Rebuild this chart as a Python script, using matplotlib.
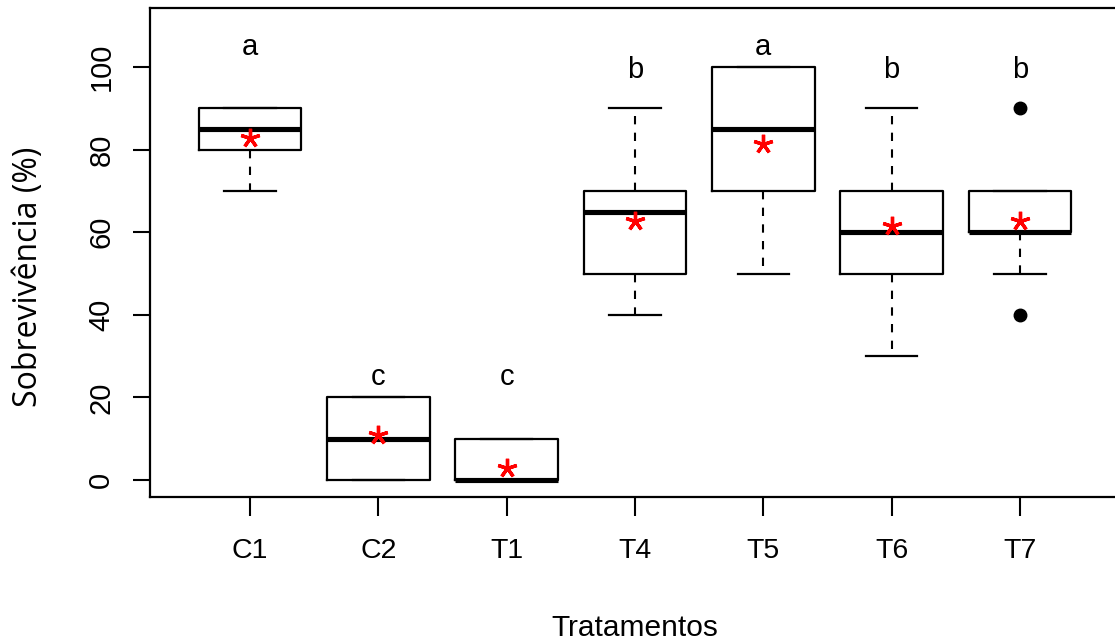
import numpy as np
import matplotlib
matplotlib.use('Agg')
import matplotlib.pyplot as plt

# values
tratamentos = ['C1', 'C2', 'T1', 'T4', 'T5', 'T6', 'T7']
q1 = [80, 0, 0, 50, 70, 50, 60]
mediana = [85, 10, 0, 65, 85, 60, 60]
q3 = [90, 20, 10, 70, 100, 70, 70]
whis_lo = [70, 0, 0, 40, 50, 30, 50]
whis_hi = [90, 20, 10, 90, 100, 90, 70]
outliers = [[], [], [], [], [], [], [90, 40]]
media = [82.8, 10.9, 2.9, 62.7, 81.4, 61.5, 62.7]
letras = ['a', 'c', 'c', 'b', 'a', 'b', 'b']
letras_y = [104.8, 25, 25, 99.4, 104.8, 99.4, 99.4]

stats = []
for i, nome in enumerate(tratamentos):
    stats.append(dict(label=nome, q1=q1[i], med=mediana[i], q3=q3[i],
                      whislo=whis_lo[i], whishi=whis_hi[i],
                      fliers=outliers[i], mean=media[i]))

fig = plt.figure(figsize=(11.15, 6.41), dpi=100)
ax = fig.add_axes([150 / 1115, 1 - 497 / 641, 970 / 1115, 489 / 641])

pos = np.arange(1, len(tratamentos) + 1)
ax.bxp(stats, positions=pos, widths=0.8, capwidths=0.4, showmeans=True,
       boxprops=dict(color='black', lw=1.6),
       medianprops=dict(color='black', lw=3.7, solid_capstyle='butt'),
       whiskerprops=dict(color='black', lw=1.5, linestyle=(0, (4, 4))),
       capprops=dict(color='black', lw=1.6),
       flierprops=dict(marker='o', markerfacecolor='black',
                       markeredgecolor='black', markersize=9),
       meanprops=dict(marker=(5, 2, 0), markeredgecolor='red',
                      markerfacecolor='red', markersize=14, mew=2.4))

for x, l, y in zip(pos, letras, letras_y):
    ax.text(x, y, l, ha='center', va='center', fontsize=21,
            family='Liberation Sans')

ax.set_xlim(0.22, 7.78)
ax.set_ylim(-4.1, 114.3)
ax.set_yticks([0, 20, 40, 60, 80, 100])
ax.set_xticks(pos)
ax.set_xticklabels(tratamentos)

for s in ax.spines.values():
    s.set_linewidth(1.6)

ax.tick_params(axis='both', direction='out', width=1.5)
ax.tick_params(axis='y', length=12, pad=13, labelsize=21)
ax.tick_params(axis='x', length=13.5, pad=16, labelsize=20.5)
for t in ax.get_yticklabels():
    t.set_rotation(90)
    t.set_va('center')
    t.set_family('Liberation Sans')
for t in ax.get_xticklabels():
    t.set_family('Liberation Sans')

ax.set_ylabel('Sobrevivência (%)', fontsize=23, family='Open Sans')
ax.yaxis.set_label_coords(-0.125, 0.45)
ax.yaxis.label.set_va('center')
ax.set_xlabel('Tratamentos', fontsize=21.5, family='Liberation Sans')
ax.xaxis.set_label_coords(0.5, -0.268)
ax.xaxis.label.set_va('center')

plt.savefig('out.png', dpi=100)
